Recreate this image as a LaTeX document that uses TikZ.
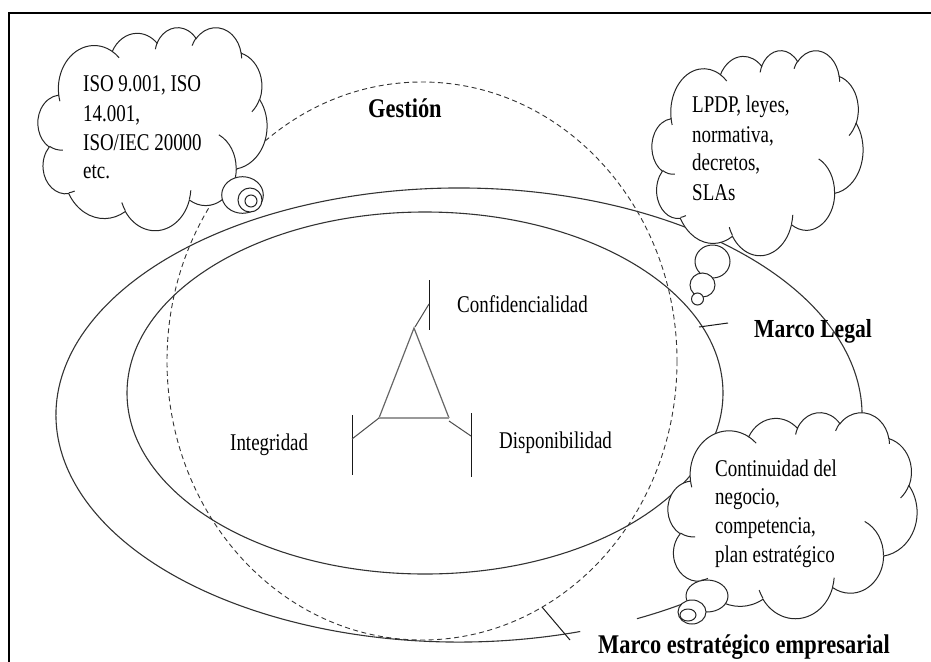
\documentclass[tikz,border=0pt]{standalone}
\usepackage{fontspec}
\setmainfont[FakeStretch=0.79]{Liberation Serif}
\newfontfamily\labelfont[FakeStretch=0.83]{Liberation Serif}

% one lobe of the cloud outline: radii (wR,hR), visual start angle, sweep
\newcommand\lobe[4]{arc[start angle={atan2(#1*sin(#3),#2*cos(#3))},
  delta angle={mod(atan2(#1*sin(#3+#4),#2*cos(#3+#4))-atan2(#1*sin(#3),#2*cos(#3))+720,360)},
  x radius=#1, y radius=#2]}

% cloud with its box at (#1,#2), width #3, height #4 (outline drawn in a 432x432 frame)
\newcommand\thoughtcloud[4]{%
  \pgfmathsetmacro\cldx{#3/432}\pgfmathsetmacro\cldy{#4/432}%
  \begin{scope}[shift={(#1,#2)}, x=\cldx pt, y=-\cldy pt]
    \draw[cloudline, fill=white] (39.00,143.70)
      \lobe{67.53}{91.90}{-190.4875}{123.7805}
      \lobe{53.33}{72.67}{-144.1024}{89.9452}
      \lobe{43.65}{59.45}{-145.8079}{99.7230}
      \lobe{48.57}{65.95}{-130.9861}{117.2417}
      \lobe{53.33}{72.73}{-78.7089}{109.0269}
      \lobe{67.75}{92.20}{-46.2673}{130.2690}
      \lobe{57.85}{78.67}{0.6250}{114.0333}
      \lobe{67.52}{92.15}{22.4516}{115.1726}
      \lobe{77.20}{105.43}{66.2426}{75.7110}
      \lobe{43.60}{59.18}{-274.9421}{146.7356}
      \lobe{43.45}{59.45}{-246.8285}{152.5189} -- cycle;
    \draw[cloudline]
      (46.93,261.77) \lobe{43.45}{59.45}{86.7420}{26.4295}
      (69.28,348.99) \lobe{43.60}{59.18}{73.6105}{11.4475}
      (164.78,390.90) \lobe{67.52}{92.15}{137.6242}{14.0811}
      (288.27,347.51) \lobe{67.52}{92.15}{6.4533}{15.9984}
      (341.29,229.54) \lobe{57.85}{78.67}{-70.2924}{70.9174}
      (417.98,153.54) \lobe{53.33}{72.73}{30.3180}{27.7515}
      (383.24,54.26) \lobe{48.57}{65.95}{-13.7443}{14.8589}
      (290.78,39.52) \lobe{48.57}{65.95}{-149.1815}{18.1954}
      (221.41,47.20) \lobe{43.65}{59.45}{-163.4943}{17.6864}
      (140.00,51.92) \lobe{67.53}{91.90}{-66.7070}{12.3194}
      (41.27,157.89) \lobe{67.53}{91.90}{157.6544}{11.8582};
  \end{scope}}

\begin{document}
\begin{tikzpicture}[x=1pt, y=-1pt,
    cloudline/.style={line width=1pt, draw=black!85},
    boundary/.style={line width=1.1pt, draw=black!80},
    gestionline/.style={line width=0.9pt, draw=black!80, dash pattern=on 5pt off 3.5pt},
    bubble/.style={line width=1pt, draw=black!85, fill=white},
    tick/.style={line width=1pt, draw=black!90},
    cloudtext/.style={anchor=base west, inner sep=0pt, font=\fontsize{24}{29}\selectfont},
    pillar/.style={anchor=base west, inner sep=0pt, font=\fontsize{24}{29}\selectfont},
    title/.style={anchor=base west, inner sep=0pt, font=\labelfont\bfseries\fontsize{27}{32}\selectfont}]
  \useasboundingbox (0,0) rectangle (931,661);

  % page frame
  \draw[line width=2pt] (9,670) |- (940,13);

  % Gestión (dashed), Marco Legal (inner) and strategic frame (outer, open at the label)
  \draw[gestionline] (422,361) ellipse [x radius=255, y radius=279];
  \draw[boundary] (425,393) ellipse [x radius=298, y radius=181];
  \draw[boundary] (580.2,631.5) arc [start angle=72.5, end angle=423.8, x radius=403, y radius=227];

  % label pointers
  \coordinate (legalA) at (699,327);
  \coordinate (legalB) at (728,323);
  \draw[tick] (legalA) -- (legalB);
  \coordinate (estrA) at (542,607);
  \coordinate (estrB) at (570,640);
  \draw[tick] (estrA) -- (estrB);

  % security triangle
  \coordinate (tA) at (414,328);
  \coordinate (tB) at (379,418);
  \coordinate (tC) at (449,418);
  \draw[line width=1.2pt, draw=black!60] (tB) -- (tA) -- (tC);
  \draw[line width=2pt, draw=black!40] (tB) -- (tC);
  \coordinate (cTop) at (429,280);  \coordinate (cBot) at (429,330);  \coordinate (cJoin) at (429,304);
  \coordinate (iTop) at (352,415);  \coordinate (iBot) at (352,475);  \coordinate (iJoin) at (352,439);
  \coordinate (dTop) at (471,413);  \coordinate (dBot) at (471,477);  \coordinate (dJoin) at (471,436);
  \draw[tick] (cTop) -- (cBot);
  \draw[tick] (iTop) -- (iBot);
  \draw[tick] (dTop) -- (dBot);
  \draw[line width=1pt, draw=black!70] (415,327) -- (cJoin);
  \draw[line width=1pt, draw=black!70] (tB) -- (iJoin);
  \draw[line width=1pt, draw=black!70] (449,421) -- (dJoin);

  \node[pillar] (conf) at (457,312) {Confidencialidad};
  \node[pillar] (integ) at (230,450) {Integridad};
  \node[pillar] (disp) at (499,448) {Disponibilidad};

  % thought clouds
  \thoughtcloud{38}{27}{229}{203}
  \draw[bubble] (242.5,195) ellipse [x radius=20.8, y radius=18.3];
  \draw[bubble] (250,200) circle [radius=12];
  \draw[bubble] (251,201) circle [radius=6];
  \node[cloudtext] (iso1) at (83,92) {ISO 9.001, ISO};
  \node[cloudtext] (iso2) at (83,121) {14.001,};
  \node[cloudtext] (iso3) at (83,150) {ISO/IEC 20000};
  \node[cloudtext] (iso4) at (83,178) {etc.};

  \thoughtcloud{652}{50}{211}{205}
  \draw[bubble] (712.5,261.5) ellipse [x radius=17.5, y radius=16.5];
  \draw[bubble] (702.5,285) ellipse [x radius=12.5, y radius=12];
  \draw[bubble] (697.5,299) circle [radius=6];
  \node[cloudtext] (law1) at (692,112) {LPDP, leyes,};
  \node[cloudtext] (law2) at (692,142) {normativa,};
  \node[cloudtext] (law3) at (692,170) {decretos,};
  \node[cloudtext] (law4) at (692,200) {SLAs};

  \thoughtcloud{668}{412}{249}{206}
  \draw[bubble] (707,596) ellipse [x radius=21, y radius=16];
  \draw[bubble] (692,612) ellipse [x radius=14, y radius=12];
  \draw[bubble] (688,615) ellipse [x radius=8, y radius=6];
  \node[cloudtext] (biz1) at (715,476) {Continuidad del};
  \node[cloudtext] (biz2) at (715,504) {negocio,};
  \node[cloudtext] (biz3) at (715,533) {competencia,};
  \node[cloudtext] (biz4) at (715,562) {plan estratégico};

  % frame titles
  \node[title] (gestion) at (368,117) {Gestión};
  \node[title, font=\labelfont\bfseries\fontsize{26}{30}\selectfont] (legal) at (754,337) {Marco Legal};
  \node[title, font=\labelfont\bfseries\fontsize{27}{32}\selectfont] (estrategico) at (598,653) {Marco estratégico empresarial};
\end{tikzpicture}
\end{document}
